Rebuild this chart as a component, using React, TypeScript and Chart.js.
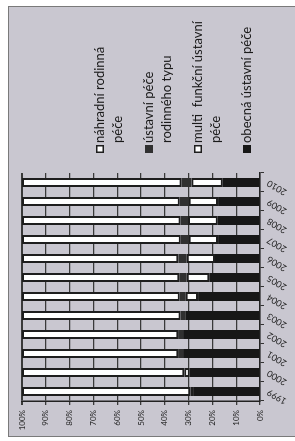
import React, { useEffect, useRef } from "react";
import { Chart, registerables } from "chart.js";

Chart.register(...registerables);

// ---- data ----
const years = ["1999", "2000", "2001", "2002", "2003", "2004", "2005", "2006", "2007", "2008", "2009", "2010"];
const obecnaUstavniPece = [28.1, 29.5, 32.3, 32.3, 31.2, 26.0, 21.3, 18.9, 17.6, 17.8, 17.6, 15.7];
const multiFunkcniUstavniPece = [1.2, 2.3, 0, 0, 0, 5.2, 9.5, 11.9, 12.3, 12.4, 12.3, 13.1];
const ustavniPeceRodinnehoTypu = [0, 0, 2.1, 2.1, 2.2, 2.5, 3.1, 3.5, 3.4, 3.2, 3.8, 4.2];
const nahradniRodinnaPece = [70.7, 68.2, 65.6, 65.6, 66.6, 66.3, 66.1, 65.7, 66.7, 66.6, 66.3, 67.0];
const valueTicks = [0, 10, 20, 30, 40, 50, 60, 70, 80, 90, 100];

const seriesLines: string[][] = [
  ["obecná ústavní péče"],
  ["multi  funkční ústavní", "péče"],
  ["ústavní péče", "rodinného typu"],
  ["náhradní rodinná", "péče"],
];

const DARK = "#171717";
const DARK2 = "#303030";
const WHITE = "#ffffff";
const EDGE = "#1e1e1e";
const FONT = "Lato, 'Open Sans', sans-serif";

const sideLegend = {
  id: "sideLegend",
  afterDraw(chart: any) {
    const ctx = chart.ctx;
    const area = chart.chartArea;
    const ds = chart.data.datasets;
    const order = [3, 2, 1, 0];
    const lineH = 18;
    let y = area.top + 78;
    ctx.save();
    ctx.font = `13px ${FONT}`;
    ctx.textBaseline = "middle";
    ctx.textAlign = "left";
    order.forEach((di) => {
      const d = ds[di];
      const lines = seriesLines[di];
      const bx = Math.round(area.right + 20);
      const by = Math.round(y - 4);
      ctx.fillStyle = d.backgroundColor;
      ctx.fillRect(bx, by, 8, 8);
      if (d.backgroundColor === WHITE) {
        ctx.strokeStyle = EDGE;
        ctx.lineWidth = 1.5;
        ctx.strokeRect(bx + 0.75, by + 0.75, 6.5, 6.5);
      }
      ctx.fillStyle = "#1a1a1a";
      lines.forEach((ln, i) => ctx.fillText(ln, area.right + 30, y + i * lineH));
      y += lines.length * lineH + 13;
    });
    ctx.restore();
  },
};

export default function App() {
  const ref = useRef<HTMLCanvasElement | null>(null);

  useEffect(() => {
    document.documentElement.style.overflow = "hidden";
    document.body.style.overflow = "hidden";
    const canvas = ref.current;
    if (!canvas) return;
    const mk = (i: number, color: string, white: boolean) => ({
      label: seriesLines[i].join(" "),
      data: [obecnaUstavniPece, multiFunkcniUstavniPece, ustavniPeceRodinnehoTypu, nahradniRodinnaPece][i],
      backgroundColor: color,
      borderColor: white ? EDGE : color,
      borderWidth: white ? 2 : 0,
      borderSkipped: false,
      barPercentage: 9 / 19,
      categoryPercentage: 1,
    });
    const chart = new Chart(canvas, {
      type: "bar",
      data: {
        labels: years,
        datasets: [mk(0, DARK, false), mk(1, WHITE, true), mk(2, DARK2, false), mk(3, WHITE, true)],
      },
      options: {
        responsive: false,
        animation: false,
        devicePixelRatio: 1,
        layout: { padding: { left: 0, top: 22, right: 173, bottom: 0 } },
        plugins: { legend: { display: false }, tooltip: { enabled: false } },
        scales: {
          x: {
            stacked: true,
            offset: true,
            grid: { display: true, drawOnChartArea: false, drawTicks: true, tickLength: 4, color: "#333", offset: true },
            border: { display: true, color: "#222", width: 1.5 },
            ticks: {
              minRotation: 60,
              maxRotation: 60,
              autoSkip: false,
              padding: 1,
              color: "#222",
              font: { family: FONT, size: 9 },
            },
            afterFit: (s: any) => {
              s.height = 35;
            },
          },
          y: {
            stacked: true,
            min: 0,
            max: 100,
            afterBuildTicks: (s: any) => {
              s.ticks = valueTicks.map((v) => ({ value: v }));
            },
            ticks: {
              callback: (v: any) => `${v}%`,
              color: "#222",
              padding: 5,
              font: { family: FONT, size: 8 },
            },
            grid: {
              color: "#3a3a3a",
              tickLength: 4,
              lineWidth: (c: any) => (c.tick && c.tick.value === 100 ? 2 : 1.3),
            },
            border: { display: true, color: "#222", width: 1.5 },
            afterFit: (s: any) => {
              s.width = 40;
            },
          },
        },
      },
      plugins: [sideLegend],
    });
    return () => chart.destroy();
  }, []);

  return (
    <div
      style={{
        position: "fixed",
        left: 0,
        top: 0,
        width: 441,
        height: 295,
        transformOrigin: "0 0",
        transform: "translateY(441px) rotate(-90deg)",
        background: "#ffffff",
        overflow: "hidden",
      }}
    >
      <div
        style={{
          position: "absolute",
          left: 4,
          top: 8,
          width: 431,
          height: 292,
          background: "#c9c7d0",
          border: "1px solid #7a7a7a",
          boxSizing: "border-box",
        }}
      />
      <canvas ref={ref} width={441} height={295} style={{ position: "absolute", left: 0, top: 0, width: 441, height: 295 }} />
    </div>
  );
}
